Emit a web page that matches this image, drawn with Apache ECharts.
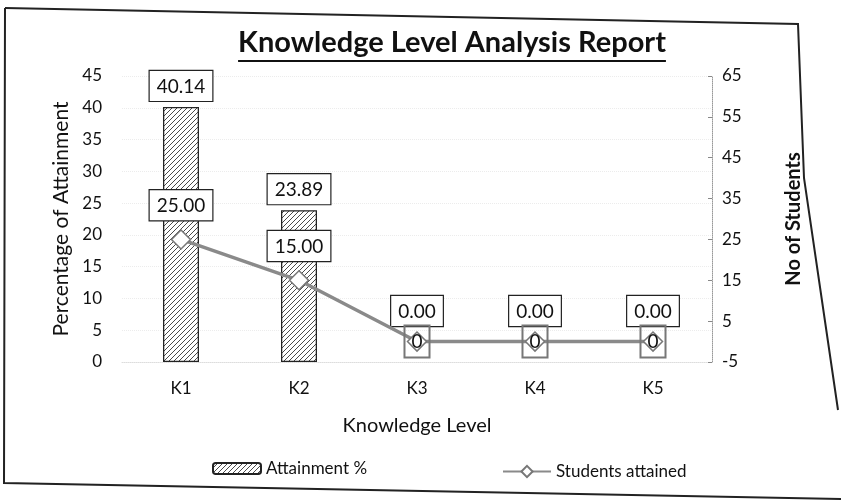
<!DOCTYPE html>
<html>
<head>
<meta charset="utf-8">
<script src="https://cdn.jsdelivr.net/npm/echarts@6/dist/echarts.min.js"></script>
<style>
  html, body { margin: 0; padding: 0; background: #fff; }
  #chart { width: 841px; height: 501px; }
</style>
</head>
<body>
<div id="chart"></div>
<script>
// Knowledge levels and their results
const levels = ['K1', 'K2', 'K3', 'K4', 'K5'];
const attainmentPct = [40.14, 23.89, 0.00, 0.00, 0.00];
const studentsAttained = [25, 15, 0, 0, 0];
const leftTicks = { min: 0, max: 45, step: 5 };
const rightTicks = { min: -5, max: 65, step: 10 };

const FONT = 'Lato, "Open Sans", sans-serif';

// diagonal hatch fill for the bars
function hatch() {
  const c = document.createElement('canvas');
  c.width = 5; c.height = 5;
  const g = c.getContext('2d');
  g.fillStyle = '#ffffff';
  g.fillRect(0, 0, 5, 5);
  g.strokeStyle = '#4a4a4a';
  g.lineWidth = 1;
  g.beginPath();
  g.moveTo(0, 5); g.lineTo(5, 0);
  g.moveTo(-1, 1); g.lineTo(1, -1);
  g.moveTo(4, 6); g.lineTo(6, 4);
  g.stroke();
  return c;
}

const boxLabel = {
  show: true,
  fontFamily: FONT,
  fontSize: 19,
  color: '#111',
  backgroundColor: '#fff',
  borderColor: '#222',
  borderWidth: 1.2,
  padding: [6, 7, 5, 7]
};

// empty bars get no outline, and their labels sit clear of the markers
const barData = attainmentPct.map(v => ({
  value: v,
  itemStyle: v === 0 ? { borderWidth: 0 } : {},
  label: v === 0 ? { distance: 36 } : {}
}));

const lineData = studentsAttained.map(v => ({
  value: v,
  label: v === 0
    ? { position: 'inside', backgroundColor: 'transparent', borderColor: '#777', borderWidth: 1, padding: [7, 7, 6, 7] }
    : {}
}));

// title width for the underline
const TITLE_FONT = 'bold 29px ' + FONT;
const meas = document.createElement('canvas').getContext('2d');
meas.font = TITLE_FONT;
const titleText = 'Knowledge Level Analysis Report';
const titleW = meas.measureText(titleText).width;
const titleX = 452;

const chart = echarts.init(document.getElementById('chart'), null, { renderer: 'canvas' });

chart.setOption({
  backgroundColor: '#fff',
  animation: false,
  textStyle: { fontFamily: FONT },
  graphic: [
    {
      type: 'polyline',
      shape: { points: [[5, 8], [798, 24], [804, 178], [838, 410]] },
      style: { stroke: '#222', lineWidth: 2, fill: null }
    },
    {
      type: 'polyline',
      shape: { points: [[5, 8], [4, 483], [841, 499]] },
      style: { stroke: '#222', lineWidth: 2, fill: null }
    },
    {
      type: 'text',
      x: titleX, y: 43,
      style: {
        text: titleText,
        font: TITLE_FONT,
        fill: '#111',
        align: 'center',
        verticalAlign: 'middle'
      }
    },
    {
      type: 'line',
      shape: { x1: titleX - titleW / 2, y1: 61, x2: titleX + titleW / 2, y2: 61 },
      style: { stroke: '#111', lineWidth: 2 }
    }
  ],
  legend: [
    {
      data: ['Attainment %'],
      left: 207, top: 455,
      itemWidth: 48, itemHeight: 11, itemGap: 5,
      textStyle: { fontSize: 17, color: '#111', fontFamily: FONT }
    },
    {
      data: ['Students attained'],
      left: 497, top: 458,
      itemWidth: 48, itemHeight: 14, itemGap: 5,
      textStyle: { fontSize: 17, color: '#111', fontFamily: FONT }
    }
  ],
  grid: { left: 122, right: 129, top: 76, bottom: 139, containLabel: false },
  xAxis: {
    type: 'category',
    data: levels,
    name: 'Knowledge Level',
    nameLocation: 'middle',
    nameGap: 54,
    nameTextStyle: { fontSize: 20, color: '#111', fontFamily: FONT },
    axisLine: { show: true, lineStyle: { color: '#ddd', type: 'dotted' } },
    axisTick: { show: false },
    axisLabel: { fontSize: 17, color: '#111', margin: 18, fontFamily: FONT }
  },
  yAxis: [
    {
      type: 'value',
      min: leftTicks.min, max: leftTicks.max, interval: leftTicks.step,
      name: 'Percentage of Attainment',
      nameLocation: 'middle',
      nameRotate: 90,
      nameGap: 44,
      nameTextStyle: { fontSize: 21, color: '#111', fontFamily: FONT },
      axisLine: { show: false },
      axisTick: { show: false },
      axisLabel: { fontSize: 17, color: '#111', margin: 20, fontFamily: FONT },
      splitLine: { show: true, lineStyle: { color: '#ececec', type: 'dotted' } }
    },
    {
      type: 'value',
      position: 'right',
      min: rightTicks.min, max: rightTicks.max, interval: rightTicks.step,
      name: 'No of Students',
      nameLocation: 'middle',
      nameRotate: 90,
      nameGap: 72,
      nameTextStyle: { fontSize: 20, fontWeight: 'bold', color: '#111', fontFamily: FONT },
      axisLine: { show: true, lineStyle: { color: '#999', type: 'dotted', width: 1 } },
      axisTick: { show: true, inside: true, length: 4, lineStyle: { color: '#888' } },
      axisLabel: { fontSize: 17, color: '#111', margin: 10, fontFamily: FONT },
      splitLine: { show: false }
    }
  ],
  series: [
    {
      name: 'Attainment %',
      type: 'bar',
      yAxisIndex: 0,
      barWidth: 36,
      data: barData,
      itemStyle: {
        color: { image: hatch(), repeat: 'repeat' },
        borderColor: '#222',
        borderWidth: 1.3
      },
      label: Object.assign({}, boxLabel, {
        position: 'top',
        distance: 6,
        formatter: p => p.value.toFixed(2)
      })
    },
    {
      name: 'Students attained',
      type: 'line',
      yAxisIndex: 1,
      data: lineData,
      symbol: 'diamond',
      symbolSize: 19,
      lineStyle: { color: '#8a8a8a', width: 3.5 },
      itemStyle: { color: '#fff', borderColor: '#777', borderWidth: 1.5 },
      label: Object.assign({}, boxLabel, {
        position: 'top',
        distance: 9,
        formatter: p => (p.value === 0 ? '0' : p.value.toFixed(2))
      }),
      z: 3
    }
  ]
});
</script>
</body>
</html>
